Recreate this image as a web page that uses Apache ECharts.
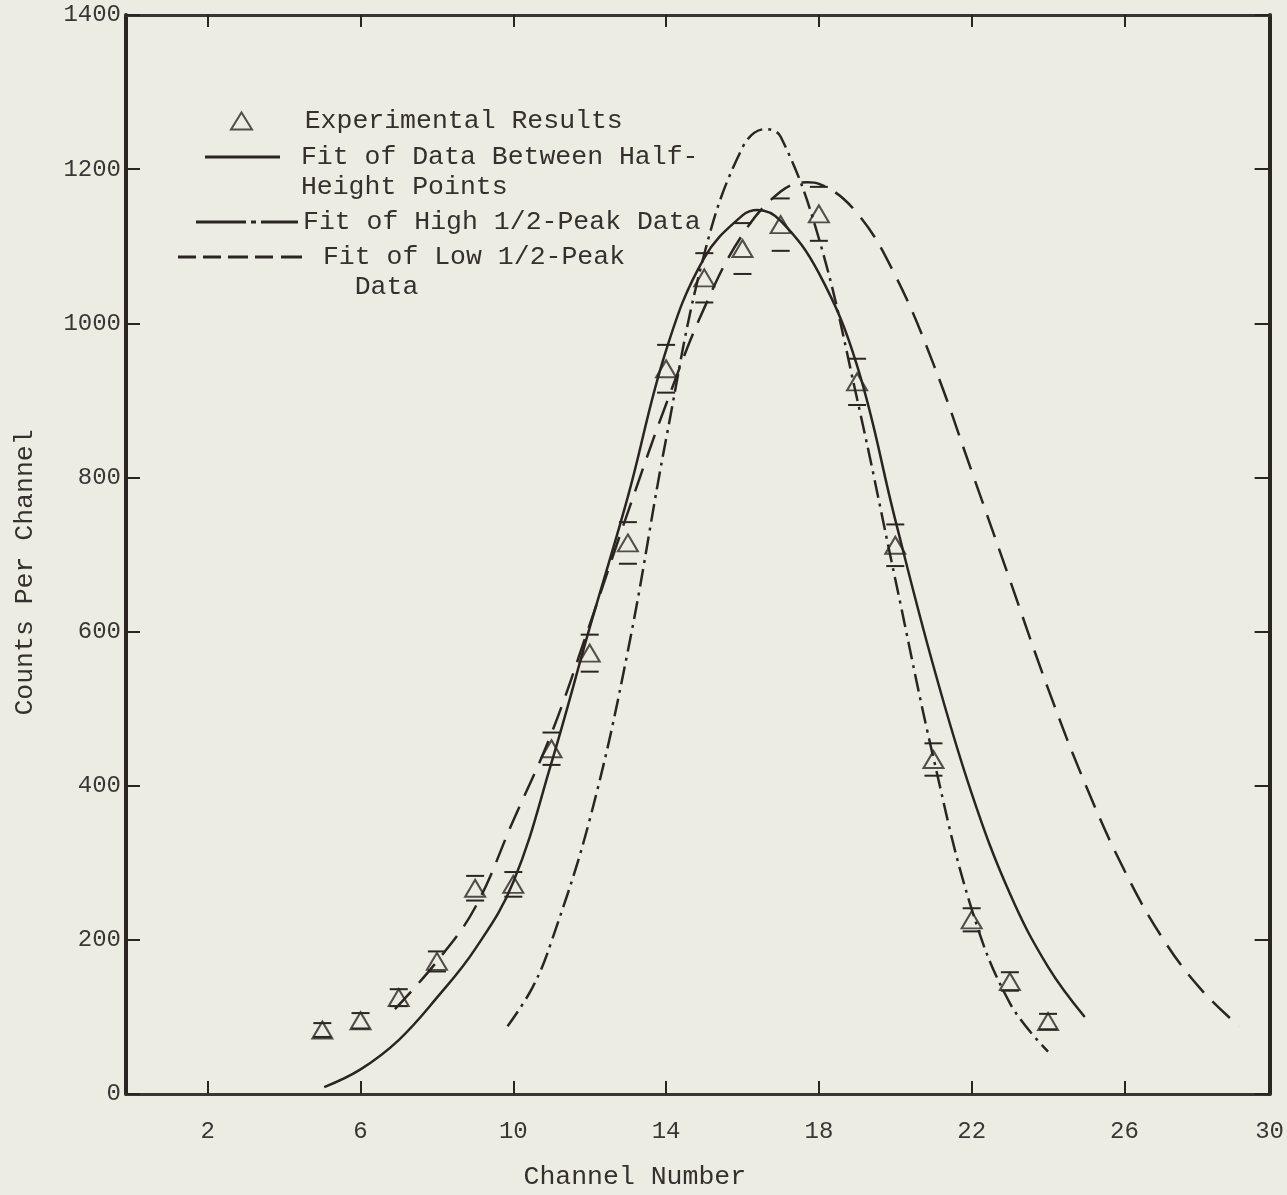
<!DOCTYPE html>
<html>
<head>
<meta charset="utf-8">
<title>Counts Per Channel</title>
<script src="https://cdn.jsdelivr.net/npm/echarts@6/dist/echarts.min.js"></script>
<style>
  html, body { margin: 0; padding: 0; background: #ecece3; }
  #chart { width: 1287px; height: 1195px; }
</style>
</head>
<body>
<div id="chart"></div>
<script>
// experimental points (channel, counts, error half-height)
var channels = [5, 6, 7, 8, 9, 10, 11, 12, 13, 14, 15, 16, 17, 18, 19, 20, 21, 22, 23, 24];
var counts = [83, 95, 125, 172, 267, 272, 448, 572, 715, 941, 1059, 1097, 1128, 1142, 924, 712, 434, 226, 146, 94];
var countErrors = [9, 10, 11, 13, 16, 16, 21, 24, 27, 31, 32, 33, 34, 35, 30, 27, 21, 15, 12, 10];

// fit between half-height points (solid)
var halfFitX = [5.05, 6, 7, 8, 9, 10, 11, 12, 13, 14, 15, 16, 16.4, 17, 18, 19, 20, 21, 22, 23, 24, 24.96];
var halfFitY = [9, 32, 70, 125, 188, 275, 430, 605, 775, 965, 1085, 1140, 1147, 1133, 1065, 945, 745, 555, 390, 260, 165, 100];

// fit of high 1/2-peak data (dash-dot)
var highFitX = [9.85, 10.5, 11, 12, 13, 14, 15, 16, 16.6, 17, 18, 19, 20, 21, 22, 23, 24];
var highFitY = [88, 138, 198, 356, 575, 850, 1090, 1228, 1252, 1242, 1110, 902, 668, 436, 240, 118, 55];

// fit of low 1/2-peak data (dashed)
var lowFitX = [6.9, 8, 9, 10, 11, 12, 13, 14, 15, 16, 17, 17.7, 18, 19, 20, 21, 22, 23, 24, 25, 26, 27, 28, 29];
var lowFitY = [110, 172, 242, 355, 468, 609, 755, 895, 1020, 1115, 1171, 1183, 1181, 1143, 1062, 947, 808, 667, 526, 399, 290, 202, 136, 88];

var xTicks = [2, 6, 10, 14, 18, 22, 26, 30];
var xTickLabels = ['2', '6', '10', '14', '18', '22', '26', '30'];

var ink = '#2b2522';
var paper = '#ecece3';
var mono = 'Liberation Mono';
var xMin = -0.14, xMax = 29.8;

function zip(xs, ys) {
  return xs.map(function (x, i) { return [x, ys[i]]; });
}

var tickVals = xTicks.filter(function (v) { return v <= xMax; });
var labelVals = xTicks.map(function (v) { return Math.min(v, xMax); });

var chart = echarts.init(document.getElementById('chart'));

var legendText = { fontFamily: mono, fontSize: 26.5, color: '#35302d', lineHeight: 30 };

var option = {
  backgroundColor: paper,
  animation: false,
  grid: { left: 126, top: 15, right: 14, bottom: 101 },
  legend: [
    {
      data: ['Experimental Results'],
      left: 230, top: 106, padding: 0,
      itemWidth: 21, itemHeight: 17,
      itemStyle: { color: 'rgba(0,0,0,0)', borderColor: ink, borderWidth: 2 },
      formatter: function () { return '   Experimental Results'; },
      textStyle: legendText, selectedMode: false
    },
    {
      // leading empty line keeps the first text line level with the sample line
      data: [{ name: 'Fit of Data Between Half-Height Points', icon: 'path://M0,0H75V3H0Z' }],
      left: 205, top: 112, padding: 0,
      itemWidth: 75, itemHeight: 3,
      itemStyle: { color: ink, borderWidth: 0 },
      formatter: function () { return '\n Fit of Data Between Half-\n Height Points'; },
      textStyle: legendText, selectedMode: false
    },
    {
      data: [{ name: 'Fit of High 1/2-Peak Data', icon: 'path://M0,0H50V3H0Z M55,0H60V3H55Z M65,0H102V3H65Z' }],
      left: 196, top: 207, padding: 0,
      itemWidth: 102, itemHeight: 3,
      itemStyle: { color: ink, borderWidth: 0 },
      textStyle: legendText, selectedMode: false
    },
    {
      data: [{ name: 'Fit of Low 1/2-Peak Data', icon: 'path://M0,0H18V3H0Z M25,0H43V3H25Z M50,0H70V3H50Z M77,0H95V3H77Z M103,0H124V3H103Z' }],
      left: 178, top: 212, padding: 0,
      itemWidth: 124, itemHeight: 3,
      itemStyle: { color: ink, borderWidth: 0 },
      formatter: function () { return '\n Fit of Low 1/2-Peak\n   Data'; },
      textStyle: legendText, selectedMode: false
    }
  ],
  xAxis: [
    {
      type: 'value', min: xMin, max: xMax,
      name: 'Channel Number', nameLocation: 'middle', nameGap: 69,
      nameTextStyle: { fontFamily: mono, fontSize: 26.5, color: '#35302d', padding: [0, 126, 0, 0] },
      axisLine: { show: true, onZero: false, lineStyle: { color: '#3a3532', width: 3 } },
      axisTick: { show: true, inside: true, length: 13, customValues: tickVals, lineStyle: { color: ink, width: 2 } },
      axisLabel: {
        customValues: labelVals, margin: 26,
        fontFamily: mono, fontSize: 24, color: '#3a3634',
        formatter: function (v) {
          var i = labelVals.indexOf(v);
          return i >= 0 ? xTickLabels[i] : '';
        }
      },
      splitLine: { show: false }
    },
    {
      type: 'value', min: xMin, max: xMax, position: 'top',
      axisLine: { show: true, onZero: false, lineStyle: { color: '#3a3532', width: 3 } },
      axisTick: { show: true, inside: true, length: 12, customValues: tickVals, lineStyle: { color: ink, width: 2 } },
      axisLabel: { show: false },
      splitLine: { show: false }
    }
  ],
  yAxis: [
    {
      type: 'value', min: 0, max: 1400, interval: 200,
      name: 'Counts Per Channel', nameLocation: 'middle', nameGap: 88, nameRotate: 90,
      nameTextStyle: { fontFamily: mono, fontSize: 26.5, color: '#35302d', padding: [0, 36, 0, 0] },
      axisLine: { show: true, onZero: false, lineStyle: { color: ink, width: 4 } },
      axisTick: { show: true, inside: true, length: 14, lineStyle: { color: ink, width: 2 } },
      axisLabel: {
        margin: 5, fontFamily: mono, fontSize: 24, color: '#3a3634',
        formatter: function (v) { return String(v); }
      },
      splitLine: { show: false }
    },
    {
      type: 'value', min: 0, max: 1400, interval: 200, position: 'right',
      axisLine: { show: true, onZero: false, lineStyle: { color: ink, width: 4 } },
      axisTick: { show: true, inside: true, length: 15, lineStyle: { color: ink, width: 2 } },
      axisLabel: { show: false },
      splitLine: { show: false }
    }
  ],
  series: [
    {
      name: 'Fit of Data Between Half-Height Points',
      type: 'line', data: zip(halfFitX, halfFitY), smooth: 0.4,
      symbol: 'none', z: 2,
      lineStyle: { color: ink, width: 2.5, type: 'solid' }
    },
    {
      name: 'Fit of High 1/2-Peak Data',
      type: 'line', data: zip(highFitX, highFitY), smooth: 0.4,
      symbol: 'none', z: 2,
      lineStyle: { color: ink, width: 2.5, type: [18, 6, 3, 6] }
    },
    {
      name: 'Fit of Low 1/2-Peak Data',
      type: 'line', data: zip(lowFitX, lowFitY), smooth: 0.4,
      symbol: 'none', z: 2,
      lineStyle: { color: ink, width: 2.5, type: [24, 12] }
    },
    {
      name: 'Experimental Results',
      type: 'scatter', data: zip(channels, counts),
      symbol: 'triangle', symbolSize: [20, 17], z: 4,
      itemStyle: { color: 'rgba(0,0,0,0)', borderColor: ink, borderWidth: 2 }
    },
    {
      name: 'Errors',
      type: 'custom', z: 3,
      data: channels.map(function (c, i) { return [c, counts[i], countErrors[i]]; }),
      renderItem: function (params, api) {
        var x = api.value(0), y = api.value(1), e = api.value(2);
        var top = api.coord([x, y + e]);
        var bot = api.coord([x, y - e]);
        var hw = 9;
        return {
          type: 'group',
          children: [
            { type: 'line', shape: { x1: top[0] - hw, y1: top[1], x2: top[0] + hw, y2: top[1] }, style: { stroke: ink, lineWidth: 2 } },
            { type: 'line', shape: { x1: bot[0] - hw, y1: bot[1], x2: bot[0] + hw, y2: bot[1] }, style: { stroke: ink, lineWidth: 2 } }
          ]
        };
      }
    }
  ]
};

chart.setOption(option);
</script>
</body>
</html>
